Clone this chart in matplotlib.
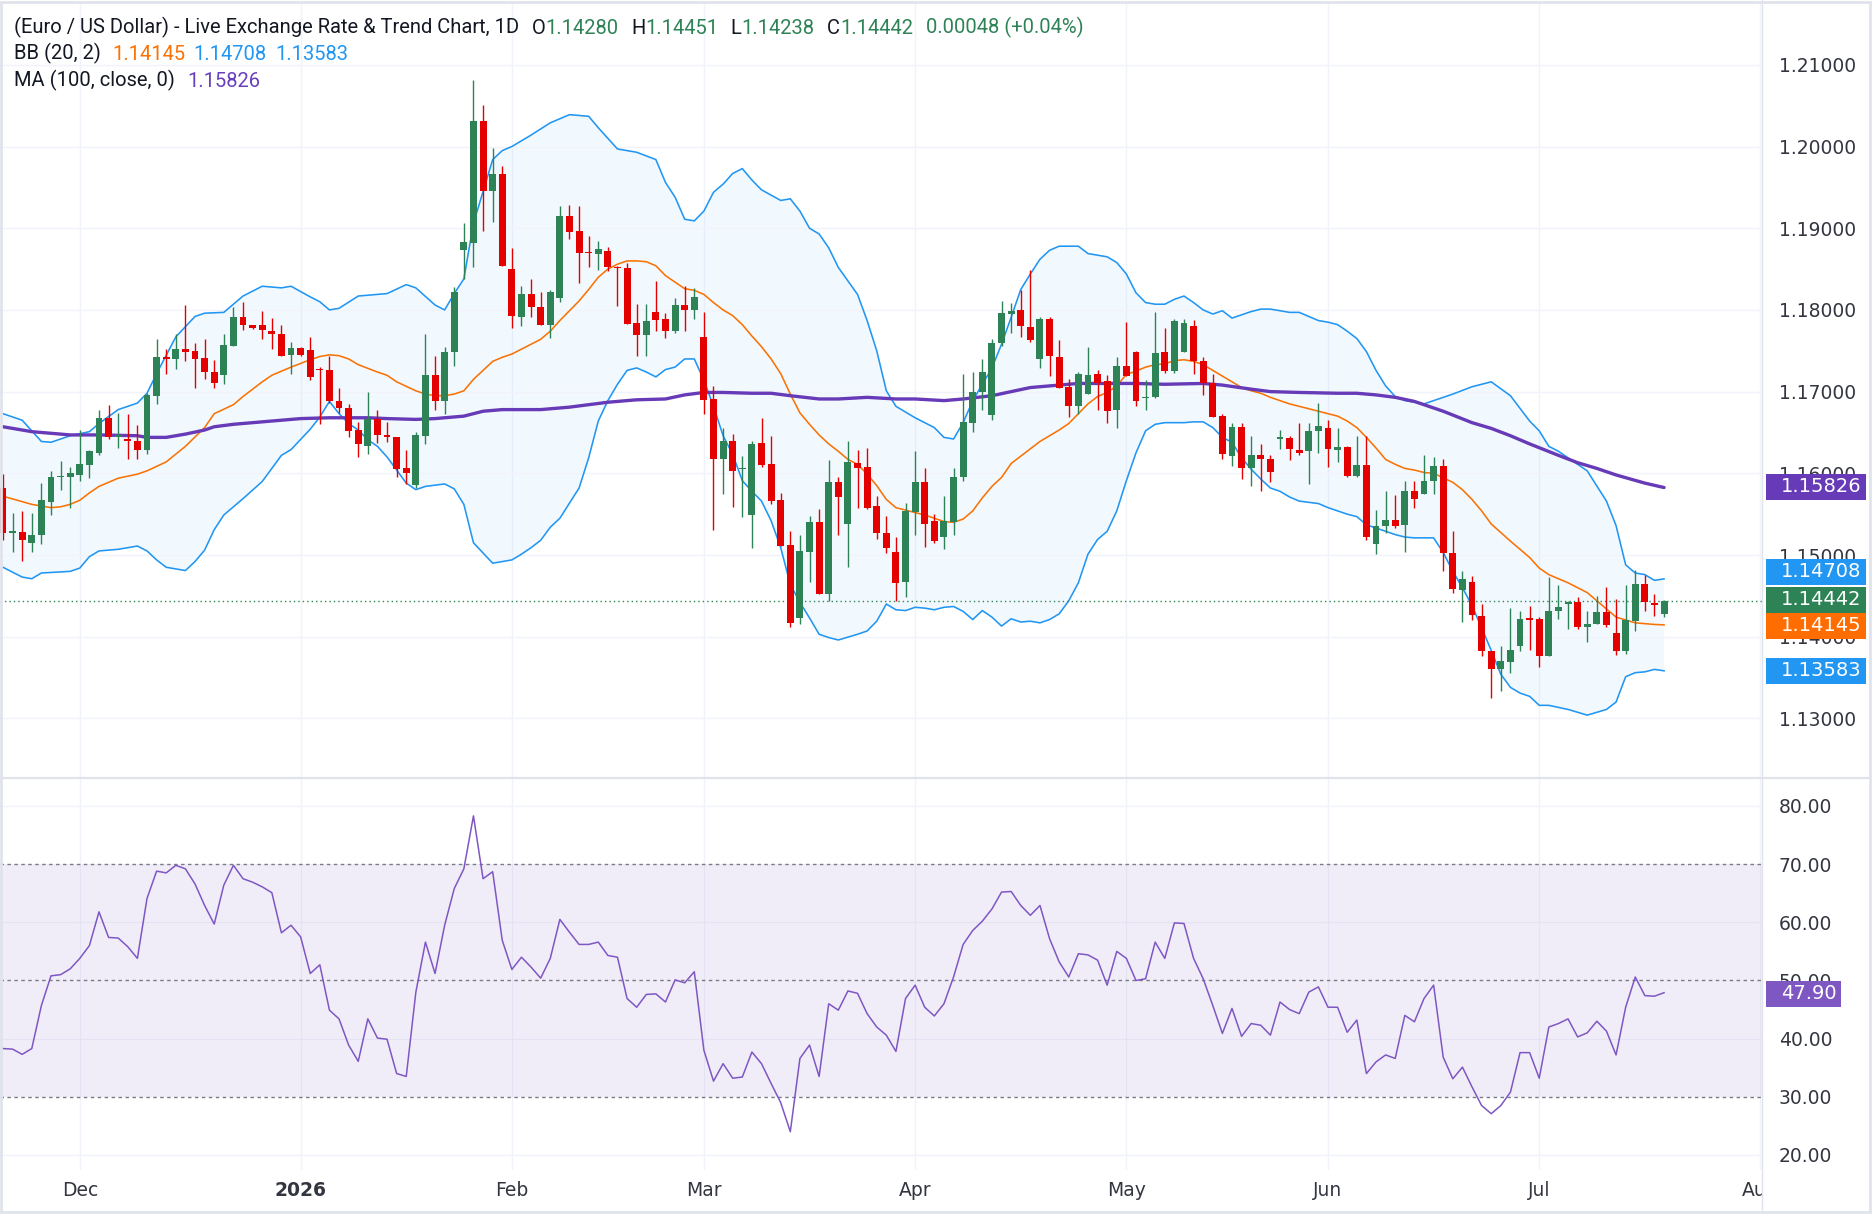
import numpy as np
import pandas as pd
import matplotlib
matplotlib.use("Agg")
import matplotlib.pyplot as plt
from matplotlib.patches import Rectangle
from matplotlib.lines import Line2D

# ---- data ----
opens = [1.1582, 1.1527, 1.1528, 1.1515, 1.1524, 1.1565, 1.1595, 1.1596, 1.1598, 1.1610,
         1.1625, 1.1668, 1.1645, 1.1642, 1.1640, 1.1628, 1.1695, 1.1742, 1.1740, 1.1752,
         1.1750, 1.1741, 1.1724, 1.1720, 1.1756, 1.1791, 1.1781, 1.1782, 1.1774, 1.1771,
         1.1745, 1.1754, 1.1751, 1.1727, 1.1727, 1.1689, 1.1680, 1.1653, 1.1634, 1.1666,
         1.1647, 1.1644, 1.1606, 1.1586, 1.1646, 1.1720, 1.1688, 1.1749, 1.1873, 1.1882,
         1.2031, 1.1946, 1.1966, 1.1850, 1.1791, 1.1820, 1.1804, 1.1781, 1.1814, 1.1915,
         1.1896, 1.1871, 1.1869, 1.1872, 1.1853, 1.1851, 1.1784, 1.1769, 1.1797, 1.1789,
         1.1774, 1.1806, 1.1800, 1.1767, 1.1691, 1.1617, 1.1640, 1.1605, 1.1549, 1.1637,
         1.1611, 1.1567, 1.1512, 1.1423, 1.1504, 1.1540, 1.1452, 1.1589, 1.1538, 1.1613,
         1.1608, 1.1560, 1.1527, 1.1504, 1.1467, 1.1553, 1.1589, 1.1542, 1.1522, 1.1540,
         1.1595, 1.1662, 1.1699, 1.1672, 1.1759, 1.1795, 1.1800, 1.1779, 1.1740, 1.1789,
         1.1742, 1.1706, 1.1683, 1.1697, 1.1721, 1.1713, 1.1678, 1.1731, 1.1749, 1.1692,
         1.1693, 1.1749, 1.1725, 1.1748, 1.1780, 1.1738, 1.1710, 1.1670, 1.1621, 1.1657,
         1.1606, 1.1623, 1.1618, 1.1642, 1.1643, 1.1628, 1.1627, 1.1652, 1.1656, 1.1629,
         1.1632, 1.1597, 1.1610, 1.1514, 1.1536, 1.1543, 1.1537, 1.1578, 1.1575, 1.1590,
         1.1609, 1.1502, 1.1457, 1.1467, 1.1425, 1.1382, 1.1361, 1.1369, 1.1389, 1.1423,
         1.1422, 1.1376, 1.1431, 1.1440, 1.1442, 1.1412, 1.1416, 1.1430, 1.1404, 1.1382,
         1.1419, 1.1464, 1.1440, 1.14280]
highs = [1.1599, 1.1551, 1.1554, 1.1552, 1.1588, 1.1603, 1.1615, 1.1608, 1.1653, 1.1629,
         1.1678, 1.1684, 1.1674, 1.1673, 1.1659, 1.1698, 1.1764, 1.1752, 1.1771, 1.1806,
         1.1759, 1.1764, 1.1739, 1.1771, 1.1804, 1.1810, 1.1782, 1.1799, 1.1790, 1.1782,
         1.1761, 1.1755, 1.1767, 1.1730, 1.1744, 1.1704, 1.1685, 1.1663, 1.1699, 1.1678,
         1.1663, 1.1644, 1.1629, 1.1651, 1.1771, 1.1744, 1.1755, 1.1828, 1.1907, 1.2081,
         1.2051, 1.1998, 1.1976, 1.1876, 1.1829, 1.1838, 1.1822, 1.1825, 1.1927, 1.1929,
         1.1927, 1.1891, 1.1884, 1.1877, 1.1854, 1.1858, 1.1807, 1.1807, 1.1836, 1.1796,
         1.1815, 1.1829, 1.1827, 1.1797, 1.1707, 1.1656, 1.1648, 1.1621, 1.1639, 1.1668,
         1.1646, 1.1576, 1.1530, 1.1525, 1.1548, 1.1556, 1.1616, 1.1595, 1.1640, 1.1629,
         1.1631, 1.1572, 1.1548, 1.1522, 1.1564, 1.1627, 1.1607, 1.1550, 1.1572, 1.1606,
         1.1722, 1.1724, 1.1740, 1.1765, 1.1811, 1.1808, 1.1824, 1.1849, 1.1791, 1.1791,
         1.1763, 1.1716, 1.1724, 1.1755, 1.1727, 1.1720, 1.1742, 1.1785, 1.1750, 1.1714,
         1.1798, 1.1778, 1.1789, 1.1789, 1.1788, 1.1742, 1.1722, 1.1673, 1.1662, 1.1662,
         1.1646, 1.1636, 1.1622, 1.1653, 1.1646, 1.1662, 1.1662, 1.1686, 1.1665, 1.1656,
         1.1633, 1.1646, 1.1646, 1.1555, 1.1578, 1.1573, 1.1591, 1.1590, 1.1622, 1.1620,
         1.1617, 1.1529, 1.1481, 1.1474, 1.1440, 1.1383, 1.1389, 1.1435, 1.1431, 1.1438,
         1.1424, 1.1473, 1.1463, 1.1444, 1.1449, 1.1432, 1.1450, 1.1461, 1.1446, 1.1463,
         1.1482, 1.1476, 1.1452, 1.14451]
lows = [1.1519, 1.1504, 1.1493, 1.1504, 1.1514, 1.1549, 1.1579, 1.1558, 1.1591, 1.1594,
        1.1622, 1.1642, 1.1631, 1.1618, 1.1617, 1.1624, 1.1685, 1.1722, 1.1728, 1.1737,
        1.1705, 1.1715, 1.1705, 1.1709, 1.1756, 1.1775, 1.1777, 1.1764, 1.1752, 1.1744,
        1.1722, 1.1744, 1.1714, 1.1660, 1.1686, 1.1674, 1.1645, 1.1620, 1.1624, 1.1637,
        1.1638, 1.1595, 1.1587, 1.1582, 1.1636, 1.1678, 1.1673, 1.1731, 1.1838, 1.1852,
        1.1897, 1.1908, 1.1854, 1.1778, 1.1780, 1.1791, 1.1781, 1.1766, 1.1810, 1.1887,
        1.1833, 1.1853, 1.1849, 1.1848, 1.1805, 1.1783, 1.1743, 1.1744, 1.1774, 1.1766,
        1.1772, 1.1774, 1.1789, 1.1673, 1.1531, 1.1575, 1.1559, 1.1547, 1.1508, 1.1608,
        1.1562, 1.1511, 1.1412, 1.1415, 1.1467, 1.1452, 1.1444, 1.1525, 1.1485, 1.1558,
        1.1556, 1.1520, 1.1503, 1.1444, 1.1449, 1.1525, 1.1510, 1.1515, 1.1507, 1.1525,
        1.1591, 1.1651, 1.1678, 1.1665, 1.1756, 1.1772, 1.1767, 1.1761, 1.1729, 1.1719,
        1.1705, 1.1669, 1.1673, 1.1697, 1.1678, 1.1662, 1.1656, 1.1719, 1.1682, 1.1678,
        1.1692, 1.1723, 1.1723, 1.1748, 1.1722, 1.1696, 1.1669, 1.1618, 1.1609, 1.1593,
        1.1584, 1.1578, 1.1589, 1.1630, 1.1616, 1.1623, 1.1587, 1.1625, 1.1608, 1.1614,
        1.1596, 1.1596, 1.1519, 1.1501, 1.1527, 1.1533, 1.1504, 1.1558, 1.1575, 1.1575,
        1.1480, 1.1453, 1.1418, 1.1420, 1.1377, 1.1325, 1.1334, 1.1355, 1.1382, 1.1384,
        1.1363, 1.1376, 1.1422, 1.1410, 1.1410, 1.1393, 1.1416, 1.1412, 1.1378, 1.1379,
        1.1407, 1.1431, 1.1425, 1.14238]
closes = [1.1527, 1.1529, 1.1518, 1.1524, 1.1567, 1.1595, 1.1597, 1.1601, 1.1611, 1.1627,
          1.1668, 1.1644, 1.1646, 1.1639, 1.1628, 1.1696, 1.1742, 1.1740, 1.1752, 1.1749,
          1.1740, 1.1724, 1.1711, 1.1757, 1.1791, 1.1781, 1.1778, 1.1776, 1.1771, 1.1744,
          1.1753, 1.1745, 1.1718, 1.1726, 1.1688, 1.1680, 1.1652, 1.1636, 1.1667, 1.1647,
          1.1644, 1.1605, 1.1601, 1.1647, 1.1720, 1.1688, 1.1749, 1.1822, 1.1883, 1.2031,
          1.1946, 1.1966, 1.1854, 1.1792, 1.1820, 1.1803, 1.1781, 1.1822, 1.1915, 1.1895,
          1.1870, 1.1870, 1.1874, 1.1853, 1.1851, 1.1783, 1.1769, 1.1786, 1.1788, 1.1774,
          1.1806, 1.1800, 1.1816, 1.1690, 1.1617, 1.1640, 1.1603, 1.1607, 1.1636, 1.1610,
          1.1566, 1.1511, 1.1417, 1.1505, 1.1540, 1.1452, 1.1589, 1.1571, 1.1614, 1.1607,
          1.1558, 1.1527, 1.1509, 1.1466, 1.1554, 1.1589, 1.1538, 1.1517, 1.1542, 1.1596,
          1.1663, 1.1700, 1.1724, 1.1759, 1.1796, 1.1799, 1.1780, 1.1763, 1.1789, 1.1743,
          1.1705, 1.1683, 1.1721, 1.1720, 1.1711, 1.1676, 1.1731, 1.1719, 1.1689, 1.1694,
          1.1747, 1.1725, 1.1787, 1.1784, 1.1738, 1.1710, 1.1669, 1.1624, 1.1657, 1.1606,
          1.1623, 1.1618, 1.1602, 1.1644, 1.1630, 1.1625, 1.1652, 1.1658, 1.1630, 1.1632,
          1.1597, 1.1610, 1.1522, 1.1536, 1.1543, 1.1535, 1.1578, 1.1568, 1.1591, 1.1609,
          1.1502, 1.1458, 1.1471, 1.1427, 1.1382, 1.1361, 1.1370, 1.1384, 1.1422, 1.1421,
          1.1376, 1.1432, 1.1436, 1.1442, 1.1412, 1.1416, 1.1430, 1.1414, 1.1382, 1.1420,
          1.1464, 1.1442, 1.14394, 1.14442]

bb_upper_idx = [0, 2, 4, 5, 7, 9, 10, 12, 14, 15, 16, 18, 20, 21, 23, 25, 27, 29, 30, 32,
                33, 34, 35, 37, 40, 42, 43, 45, 46, 47, 48, 49, 51, 52, 53, 55, 57, 59, 61, 62,
                64, 66, 68, 69, 70, 71, 72, 73, 74, 75, 76, 77, 78, 79, 81, 82, 83, 84, 85, 86,
                87, 89, 90, 91, 92, 93, 95, 97, 98, 99, 100, 101, 103, 104, 105, 106, 107, 108, 109, 110,
                112, 113, 115, 116, 117, 118, 119, 120, 121, 122, 123, 124, 125, 126, 127, 128, 129, 130, 131, 132,
                134, 135, 137, 138, 139, 140, 141, 142, 143, 144, 145, 146, 148, 151, 153, 155, 157, 159, 160, 161,
                162, 163, 165, 167, 168, 169, 170, 171, 172, 173]
bb_upper = [1.1673, 1.1665, 1.1639, 1.1638, 1.1646, 1.1651, 1.1661, 1.1678, 1.1686, 1.1698,
            1.1722, 1.1767, 1.1792, 1.1796, 1.1797, 1.1817, 1.1829, 1.1827, 1.1829, 1.1816,
            1.1810, 1.1800, 1.1802, 1.1817, 1.1820, 1.1831, 1.1827, 1.1806, 1.1800, 1.1820,
            1.1838, 1.1906, 1.1984, 1.1995, 1.2000, 1.2014, 1.2029, 1.2039, 1.2037, 1.2023,
            1.1997, 1.1993, 1.1984, 1.1956, 1.1938, 1.1911, 1.1909, 1.1921, 1.1944, 1.1954,
            1.1967, 1.1973, 1.1959, 1.1947, 1.1934, 1.1936, 1.1921, 1.1900, 1.1893, 1.1876,
            1.1852, 1.1819, 1.1787, 1.1750, 1.1701, 1.1682, 1.1668, 1.1656, 1.1644, 1.1642,
            1.1662, 1.1689, 1.1729, 1.1758, 1.1791, 1.1825, 1.1844, 1.1862, 1.1873, 1.1878,
            1.1878, 1.1869, 1.1865, 1.1858, 1.1844, 1.1821, 1.1809, 1.1807, 1.1807, 1.1813,
            1.1817, 1.1809, 1.1800, 1.1795, 1.1799, 1.1790, 1.1794, 1.1798, 1.1801, 1.1801,
            1.1797, 1.1797, 1.1787, 1.1785, 1.1782, 1.1774, 1.1765, 1.1749, 1.1726, 1.1707,
            1.1694, 1.1689, 1.1685, 1.1697, 1.1706, 1.1712, 1.1695, 1.1664, 1.1652, 1.1633,
            1.1627, 1.1619, 1.1603, 1.1566, 1.1536, 1.1488, 1.1478, 1.1476, 1.1469, 1.14708]

bb_lower_idx = [0, 2, 3, 4, 7, 8, 9, 10, 12, 14, 15, 16, 17, 19, 20, 21, 22, 23, 24, 25,
                27, 28, 29, 30, 32, 33, 34, 35, 36, 37, 38, 39, 40, 41, 42, 43, 44, 46, 47, 48,
                49, 51, 53, 54, 55, 56, 57, 58, 60, 61, 62, 63, 64, 65, 66, 67, 68, 69, 70, 71,
                72, 73, 74, 75, 76, 77, 78, 79, 80, 81, 82, 83, 84, 85, 86, 87, 89, 90, 91, 92,
                93, 94, 95, 96, 97, 98, 99, 100, 101, 102, 103, 104, 105, 106, 107, 108, 109, 110, 111, 112,
                113, 114, 115, 116, 117, 118, 119, 120, 121, 123, 124, 125, 126, 127, 128, 129, 130, 131, 132, 133,
                134, 135, 137, 138, 139, 140, 141, 142, 143, 144, 145, 146, 147, 149, 150, 151, 152, 153, 154, 155,
                156, 157, 158, 159, 160, 161, 163, 165, 167, 168, 169, 170, 171, 172, 173]
bb_lower = [1.1485, 1.1473, 1.1471, 1.1478, 1.1480, 1.1484, 1.1498, 1.1505, 1.1507, 1.1511,
            1.1505, 1.1494, 1.1485, 1.1481, 1.1492, 1.1506, 1.1531, 1.1549, 1.1559, 1.1569,
            1.1590, 1.1606, 1.1622, 1.1629, 1.1654, 1.1669, 1.1688, 1.1673, 1.1661, 1.1653,
            1.1641, 1.1633, 1.1620, 1.1604, 1.1588, 1.1580, 1.1584, 1.1587, 1.1581, 1.1562,
            1.1515, 1.1490, 1.1494, 1.1501, 1.1509, 1.1518, 1.1534, 1.1545, 1.1582, 1.1619,
            1.1664, 1.1689, 1.1709, 1.1726, 1.1729, 1.1724, 1.1718, 1.1727, 1.1730, 1.1740,
            1.1740, 1.1714, 1.1682, 1.1646, 1.1623, 1.1591, 1.1578, 1.1566, 1.1542, 1.1509,
            1.1464, 1.1442, 1.1423, 1.1403, 1.1399, 1.1396, 1.1403, 1.1407, 1.1419, 1.1440,
            1.1433, 1.1432, 1.1436, 1.1435, 1.1433, 1.1436, 1.1437, 1.1431, 1.1421, 1.1432,
            1.1424, 1.1413, 1.1422, 1.1418, 1.1419, 1.1417, 1.1421, 1.1428, 1.1444, 1.1466,
            1.1501, 1.1519, 1.1529, 1.1554, 1.1591, 1.1625, 1.1652, 1.1660, 1.1662, 1.1662,
            1.1663, 1.1663, 1.1656, 1.1644, 1.1638, 1.1619, 1.1605, 1.1593, 1.1582, 1.1578,
            1.1571, 1.1566, 1.1563, 1.1558, 1.1554, 1.1550, 1.1547, 1.1537, 1.1533, 1.1529,
            1.1525, 1.1522, 1.1521, 1.1521, 1.1503, 1.1480, 1.1460, 1.1438, 1.1411, 1.1383,
            1.1354, 1.1338, 1.1331, 1.1327, 1.1316, 1.1316, 1.1311, 1.1304, 1.1311, 1.1320,
            1.1351, 1.1356, 1.1357, 1.1360, 1.13583]

bb_mid_idx = [0, 3, 5, 6, 7, 8, 9, 10, 12, 14, 15, 17, 19, 21, 22, 24, 25, 27, 28, 29,
              30, 32, 33, 34, 35, 36, 37, 39, 40, 41, 43, 44, 45, 46, 47, 48, 49, 50, 51, 52,
              53, 54, 55, 56, 57, 58, 59, 60, 61, 62, 63, 64, 65, 66, 67, 68, 69, 70, 71, 72,
              73, 74, 75, 76, 77, 78, 79, 80, 81, 82, 83, 84, 85, 86, 87, 88, 89, 90, 91, 92,
              93, 94, 95, 96, 97, 98, 99, 100, 101, 102, 103, 104, 105, 106, 107, 108, 109, 110, 111, 112,
              113, 114, 115, 116, 117, 118, 119, 120, 121, 122, 123, 124, 125, 126, 127, 128, 129, 130, 131, 132,
              133, 134, 135, 137, 138, 139, 140, 141, 142, 143, 144, 145, 146, 147, 148, 149, 151, 152, 153, 154,
              155, 157, 159, 160, 161, 163, 165, 166, 168, 170, 171, 172, 173]
bb_mid = [1.1572, 1.1562, 1.1558, 1.1559, 1.1562, 1.1567, 1.1576, 1.1584, 1.1594, 1.1599,
          1.1603, 1.1614, 1.1633, 1.1656, 1.1673, 1.1684, 1.1694, 1.1712, 1.1720, 1.1725,
          1.1730, 1.1739, 1.1743, 1.1745, 1.1744, 1.1740, 1.1733, 1.1724, 1.1720, 1.1712,
          1.1701, 1.1697, 1.1695, 1.1695, 1.1697, 1.1701, 1.1715, 1.1726, 1.1737, 1.1742,
          1.1746, 1.1752, 1.1758, 1.1764, 1.1774, 1.1787, 1.1799, 1.1811, 1.1825, 1.1840,
          1.1850, 1.1856, 1.1860, 1.1860, 1.1859, 1.1854, 1.1842, 1.1834, 1.1826, 1.1824,
          1.1819, 1.1809, 1.1800, 1.1793, 1.1782, 1.1768, 1.1755, 1.1740, 1.1722, 1.1697,
          1.1674, 1.1660, 1.1647, 1.1636, 1.1627, 1.1617, 1.1611, 1.1599, 1.1585, 1.1568,
          1.1558, 1.1555, 1.1552, 1.1549, 1.1545, 1.1541, 1.1540, 1.1544, 1.1554, 1.1570,
          1.1584, 1.1595, 1.1612, 1.1621, 1.1630, 1.1639, 1.1646, 1.1653, 1.1661, 1.1673,
          1.1685, 1.1694, 1.1699, 1.1707, 1.1721, 1.1725, 1.1730, 1.1733, 1.1734, 1.1738,
          1.1739, 1.1737, 1.1733, 1.1726, 1.1719, 1.1712, 1.1705, 1.1701, 1.1698, 1.1693,
          1.1689, 1.1685, 1.1682, 1.1676, 1.1673, 1.1670, 1.1664, 1.1656, 1.1644, 1.1631,
          1.1617, 1.1611, 1.1606, 1.1604, 1.1601, 1.1600, 1.1589, 1.1580, 1.1568, 1.1554,
          1.1538, 1.1517, 1.1497, 1.1484, 1.1476, 1.1466, 1.1454, 1.1444, 1.1424, 1.1417,
          1.1416, 1.1415, 1.14145]

ma_idx = [0, 3, 7, 10, 14, 15, 17, 19, 21, 22, 24, 28, 29, 31, 34, 38, 40, 43, 45, 48,
          50, 52, 56, 59, 63, 66, 69, 71, 73, 75, 78, 80, 82, 85, 87, 90, 93, 95, 98, 100,
          103, 105, 107, 110, 112, 118, 121, 125, 127, 130, 132, 135, 139, 141, 143, 145, 147, 150, 153, 155,
          157, 159, 162, 164, 166, 168, 171, 173]
ma100 = [1.1657, 1.1651, 1.1647, 1.1647, 1.1646, 1.1644, 1.1644, 1.1648, 1.1653, 1.1657,
         1.1660, 1.1664, 1.1665, 1.1667, 1.1668, 1.1668, 1.1667, 1.1666, 1.1667, 1.1670,
         1.1676, 1.1678, 1.1678, 1.1681, 1.1687, 1.1690, 1.1691, 1.1696, 1.1699, 1.1699,
         1.1698, 1.1698, 1.1695, 1.1691, 1.1691, 1.1693, 1.1691, 1.1691, 1.1689, 1.1691,
         1.1695, 1.1700, 1.1705, 1.1708, 1.1710, 1.1710, 1.1709, 1.1710, 1.1708, 1.1703,
         1.1700, 1.1699, 1.1698, 1.1698, 1.1696, 1.1693, 1.1688, 1.1676, 1.1662, 1.1655,
         1.1646, 1.1636, 1.1622, 1.1613, 1.1606, 1.1598, 1.1588, 1.15826]

rsi = [38.3, 38.2, 37.3, 38.3, 45.7, 50.8, 51.0, 52.0, 53.8, 56.0,
       61.8, 57.4, 57.3, 55.8, 53.8, 64.1, 68.8, 68.5, 69.8, 69.2,
       66.6, 62.9, 59.7, 66.4, 69.8, 67.5, 66.9, 66.1, 65.1, 58.2,
       59.5, 57.5, 51.2, 52.7, 44.9, 43.4, 38.9, 36.1, 43.4, 40.1,
       39.9, 34.0, 33.5, 48.0, 56.6, 51.2, 59.5, 65.8, 69.2, 78.3,
       67.5, 68.7, 56.9, 51.9, 54.0, 52.3, 50.4, 53.8, 60.5, 58.3,
       56.2, 56.2, 56.6, 54.3, 54.0, 46.9, 45.4, 47.6, 47.7, 46.3,
       50.1, 49.6, 51.5, 38.0, 32.7, 35.7, 33.2, 33.4, 37.7, 35.7,
       32.3, 29.0, 24.0, 36.6, 38.9, 33.5, 46.0, 44.9, 48.2, 47.8,
       44.3, 42.0, 40.6, 37.8, 46.9, 49.2, 45.4, 43.9, 46.0, 50.6,
       56.2, 58.6, 60.2, 62.3, 65.2, 65.3, 62.9, 61.2, 62.9, 57.2,
       53.2, 50.6, 54.6, 54.4, 53.5, 49.2, 55.0, 53.8, 50.0, 50.3,
       56.6, 53.8, 59.9, 59.8, 53.8, 50.3, 45.7, 40.9, 45.2, 40.4,
       42.6, 42.3, 40.6, 46.3, 45.0, 44.3, 48.0, 48.9, 45.4, 45.4,
       41.1, 43.2, 34.0, 36.0, 37.2, 36.6, 44.0, 42.9, 46.9, 49.2,
       36.8, 33.1, 35.1, 31.7, 28.5, 27.1, 28.5, 30.8, 37.6, 37.6,
       33.2, 42.0, 42.6, 43.4, 40.3, 41.0, 43.0, 41.3, 37.2, 45.4,
       50.6, 47.4, 47.3, 47.90]

price_ticks = [1.13, 1.14, 1.15, 1.16, 1.17, 1.18, 1.19, 1.20, 1.21]
rsi_ticks = [20, 30, 40, 50, 60, 70, 80]

dates = pd.bdate_range("2025-11-19", "2026-07-20")
axis_dates = pd.bdate_range("2025-11-19", "2026-08-05")

# ---- colours ----
GREEN = "#2e8356"
RED = "#e50000"
BLUE = "#2196f3"
ORANGE = "#fb7204"
PURPLE = "#673ab7"
RSI_C = "#7e57c2"
GRID = "#f0f3fa"
BORDER = "#e0e3eb"
TXT = "#131722"

W, H = 1872, 1223
fig = plt.figure(figsize=(W / 100, H / 100), dpi=100)
fig.patch.set_facecolor("white")


def fx(px):
    return px / W


def fy(px):
    return 1 - px / H


PANE_R = 1762
ax = fig.add_axes([0, fy(777), fx(PANE_R), 775 / H])
ax_rsi = fig.add_axes([0, fy(1170), fx(PANE_R), 391 / H])

x = np.arange(len(closes))
o = np.array(opens)
h = np.array(highs)
l = np.array(lows)
c = np.array(closes)
up = c >= o
cols = np.where(up, GREEN, RED)

xlim = (-0.31, 183.2)
ymin, ymax = 1.12283, 1.21769

# month starts (vertical grid + labels)
month_first = []
for k in range(1, len(axis_dates)):
    if axis_dates[k].month != axis_dates[k - 1].month:
        month_first.append(k)
month_names = []
for k in month_first:
    d = axis_dates[k]
    month_names.append(str(d.year) if d.month == 1 else d.strftime("%b"))

# ---- price pane ----
for a in (ax, ax_rsi):
    a.set_xlim(*xlim)
    for s in a.spines.values():
        s.set_visible(False)
    a.tick_params(axis="x", bottom=False, labelbottom=False)
    for k in month_first:
        a.axvline(k, color=GRID, lw=1, zorder=0)

ax.set_ylim(ymin, ymax)
ax.set_yticks(price_ticks)
ax.set_yticklabels([f"{v:.5f}" for v in price_ticks])
ax.yaxis.tick_right()
ax.tick_params(axis="y", length=0, pad=12, labelsize=13.5, labelcolor="#333640")
ax.grid(axis="y", color=GRID, lw=1, zorder=0)

# bollinger fill
poly_x = list(bb_upper_idx) + list(bb_lower_idx)[::-1]
poly_y = list(bb_upper) + list(bb_lower)[::-1]
ax.fill(poly_x, poly_y, color=BLUE, alpha=0.055, lw=0, zorder=1)
ax.plot(bb_upper_idx, bb_upper, color=BLUE, lw=1.15, zorder=2)
ax.plot(bb_lower_idx, bb_lower, color=BLUE, lw=1.15, zorder=2)
ax.plot(bb_mid_idx, bb_mid, color=ORANGE, lw=1.15, zorder=2)
ax.plot(ma_idx, ma100, color=PURPLE, lw=2.4, zorder=2, solid_capstyle="round")

# candles
ax.vlines(x, l, h, colors=cols, lw=1.0, zorder=3)
body_lo = np.minimum(o, c)
body_h = np.maximum(np.abs(c - o), 0.00014)
ax.bar(x, body_h, bottom=body_lo, width=0.72, color=cols, lw=0, zorder=4)

ax.axhline(closes[-1], color=GREEN, lw=1, ls=(0, (1, 2.2)), zorder=2)

# ---- RSI pane ----
ax_rsi.set_ylim(17.42, 84.64)
ax_rsi.set_yticks(rsi_ticks)
ax_rsi.set_yticklabels([f"{v:.2f}" for v in rsi_ticks])
ax_rsi.yaxis.tick_right()
ax_rsi.tick_params(axis="y", length=0, pad=12, labelsize=13.5, labelcolor="#333640")
for v in (20, 40, 60, 80):
    ax_rsi.axhline(v, color=GRID, lw=1, zorder=0)
ax_rsi.axhspan(30, 70, color=RSI_C, alpha=0.1, lw=0, zorder=0)
for v in (30, 50, 70):
    ax_rsi.axhline(v, color="#787b86", lw=1, ls=(0, (2.5, 2.5)), zorder=1)
ax_rsi.plot(x, rsi, color=RSI_C, lw=1.1, zorder=3)

# ---- date labels strip ----
ax_d = fig.add_axes([0, fy(1212), fx(PANE_R), 42 / H])
ax_d.set_xlim(*xlim)
ax_d.set_ylim(0, 1)
ax_d.axis("off")
for k, name in zip(month_first, month_names):
    ax_d.text(k, 0.5, name, ha="center", va="center", fontsize=13.5, color="#333640",
              fontweight="bold" if name.isdigit() else "normal", clip_on=True)

# ---- frame lines ----
fig.add_artist(Line2D([fx(PANE_R), fx(PANE_R)], [fy(0), fy(1212)], color=BORDER, lw=1))
fig.add_artist(Line2D([0, fx(1870)], [fy(778), fy(778)], color=BORDER, lw=1.6))
fig.add_artist(Rectangle((fx(1), fy(1212)), fx(1869), 1210 / H, transform=fig.transFigure,
                         fill=False, edgecolor=BORDER, lw=2))


# ---- value tags on the right axis ----
def tag(axis, value, text, color, nudge_px=0.0, width_px=100):
    yd = axis.transData.transform((0, value))[1] + nudge_px
    yf = yd / H
    fig.add_artist(Rectangle((fx(1766), yf - 13 / H), fx(width_px), 26 / H,
                             transform=fig.transFigure, color=color, lw=0, zorder=10))
    fig.text(fx(1781), yf, text, color="white", fontsize=14, va="center", ha="left", zorder=11)


tag(ax, ma100[-1], f"{ma100[-1]:.5f}", PURPLE, 1)
tag(ax, bb_upper[-1], f"{bb_upper[-1]:.5f}", BLUE, 7)
tag(ax, closes[-1], f"{closes[-1]:.5f}", GREEN, 1)
tag(ax, bb_mid[-1], f"{bb_mid[-1]:.5f}", "#ff6d00", -1)
tag(ax, bb_lower[-1], f"{bb_lower[-1]:.5f}", BLUE, 0)
tag(ax_rsi, rsi[-1], f"{rsi[-1]:.2f}", RSI_C, -1, 75)

# ---- legend text rows ----
HF = ["Roboto", "DejaVu Sans"]
HS = 14.5


def text_row(y_px, parts):
    t = ax.annotate(parts[0][0], xy=(fx(14), fy(y_px)), xycoords="figure fraction",
                    color=parts[0][1], fontsize=HS, va="center", ha="left", family=HF,
                    annotation_clip=False)
    for s, col, gap in parts[1:]:
        t = ax.annotate(s, xy=(1, 0), xycoords=t, xytext=(gap, 0), textcoords="offset points",
                        color=col, fontsize=HS, va="bottom", ha="left", family=HF,
                        annotation_clip=False)


chg = closes[-1] - closes[-2]
text_row(27, [("(Euro / US Dollar) - Live Exchange Rate & Trend Chart, 1D", TXT, 0),
              ("O", TXT, 9), (f"{opens[-1]:.5f}", GREEN, 0),
              ("H", TXT, 9), (f"{highs[-1]:.5f}", GREEN, 0),
              ("L", TXT, 9), (f"{lows[-1]:.5f}", GREEN, 0),
              ("C", TXT, 9), (f"{closes[-1]:.5f}", GREEN, 0),
              (f"{chg:.5f} (+{chg / closes[-2] * 100:.2f}%)", GREEN, 9)])
text_row(53, [("BB (20, 2)", TXT, 0), (f"{bb_mid[-1]:.5f}", ORANGE, 8),
              (f"{bb_upper[-1]:.5f}", BLUE, 6), (f"{bb_lower[-1]:.5f}", BLUE, 6)])
text_row(80, [("MA (100, close, 0)", TXT, 0), (f"{ma100[-1]:.5f}", "#6a3fbf", 9)])
text_row(805, [("RSI (14)", TXT, 0), (f"{rsi[-1]:.2f}", RSI_C, 8)])

fig.savefig("out.png", dpi=100, facecolor="white")
